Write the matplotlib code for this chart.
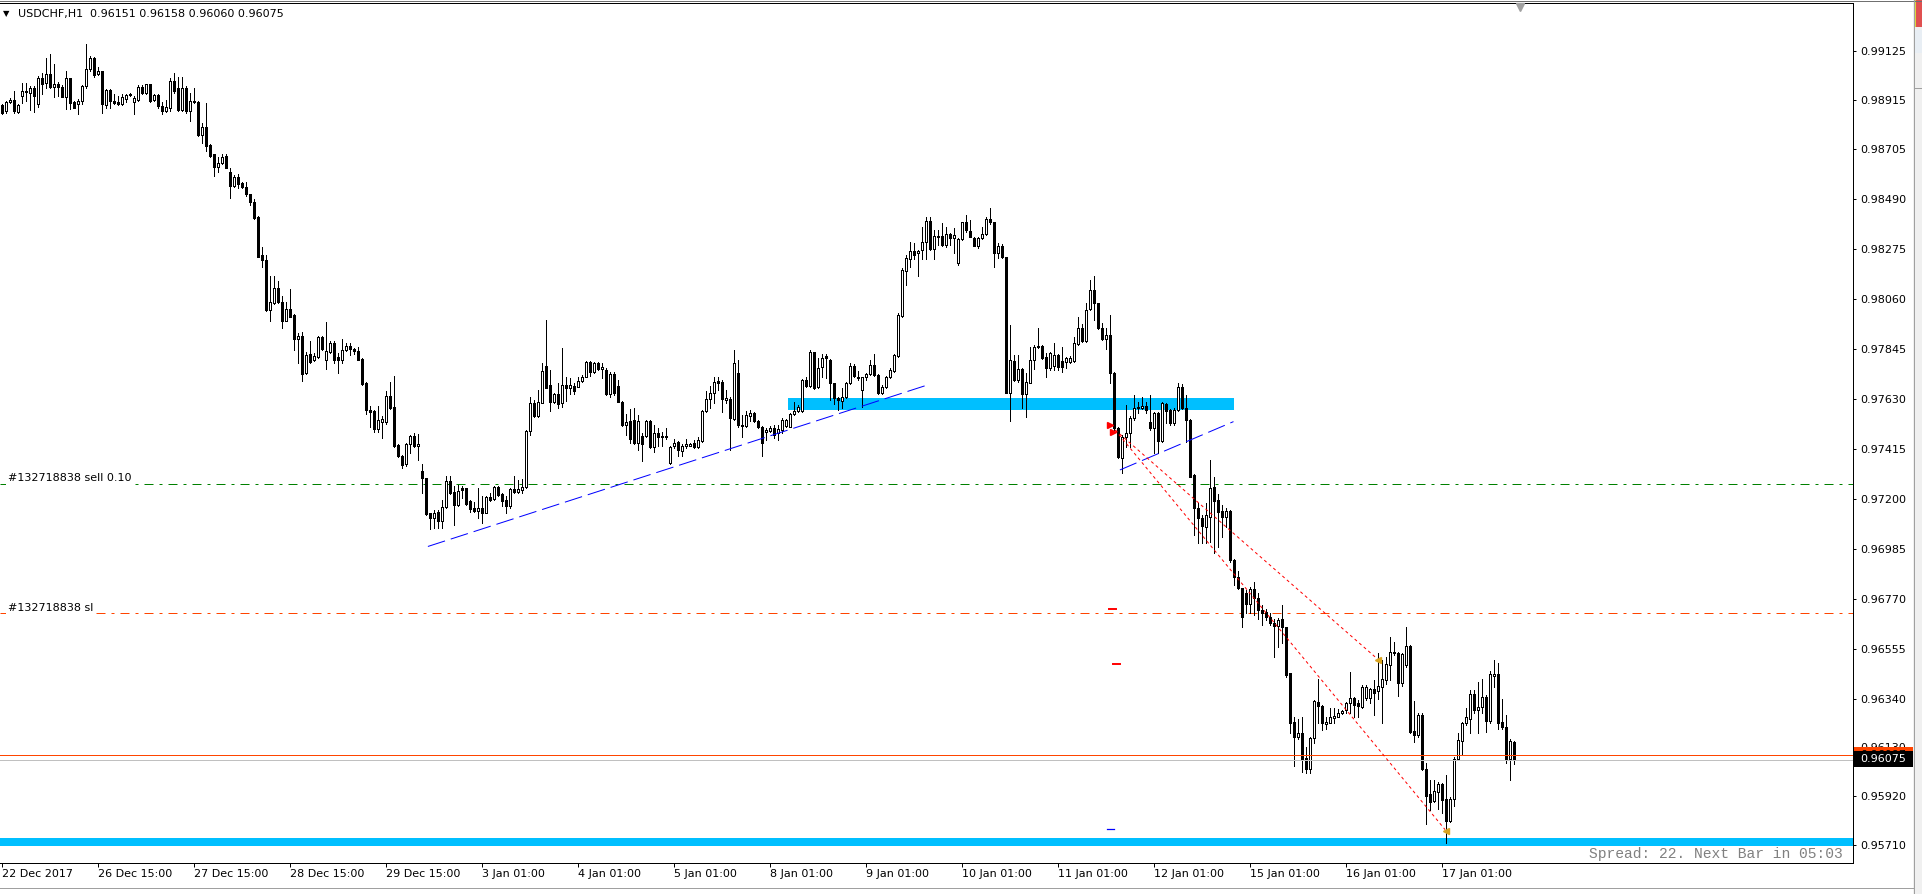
import matplotlib
matplotlib.use("Agg")
import matplotlib.pyplot as plt
import numpy as np
from matplotlib.patches import Rectangle
from matplotlib.lines import Line2D
from matplotlib import transforms

plt.rcParams['font.family'] = ['DejaVu Sans']

# ---------------- data (prices in points, 1 point = 0.00001) ----------------
symbol = "USDCHF,H1"
header_values = "0.96151 0.96158 0.96060 0.96075"

opens = [
    98892, 98866, 98906, 98916, 98862, 98933, 98953, 98945, 98965, 98895,
    99007, 98986, 99026, 98972, 98983, 98972, 98929, 99007, 98906, 98899,
    98909, 98975, 99047, 99094, 99026, 99037, 98892, 98956, 98909, 98905,
    98895, 98920, 98936, 98906, 98916, 98972, 98943, 98982, 98913, 98934,
    98888, 98866, 98878, 98994, 98967, 98870, 98967, 98866, 98909, 98906,
    98764, 98796, 98720, 98681, 98626, 98645, 98672, 98604, 98546, 98583,
    98556, 98542, 98509, 98477, 98411, 98248, 98228, 98011, 98040, 98107,
    98047, 97965, 98016, 97989, 97885, 97899, 97740, 97822, 97794, 97808,
    97895, 97798, 97831, 97869, 97808, 97794, 97837, 97855, 97844, 97834,
    97800, 97698, 97583, 97576, 97499, 97529, 97529, 97642,
    97593, 97431, 97383, 97348, 97434, 97469, 97424, 97319, 97287, 97137,
    97118, 97144, 97105, 97163, 97277, 97230, 97173, 97244, 97244, 97190,
    97158, 97148, 97158, 97140, 97206, 97197, 97249, 97218, 97194, 97166,
    97240, 97230, 97237, 97249, 97492, 97610, 97555, 97613, 97770, 97689,
    97617, 97650, 97610, 97689, 97674, 97684, 97681, 97706, 97724, 97786,
    97746, 97785, 97756, 97753, 97650, 97736, 97684, 97617, 97517, 97535,
    97538, 97438, 97469, 97469, 97535, 97421, 97484, 97469, 97469, 97352,
    97428, 97442, 97406, 97424, 97428, 97441, 97421, 97449, 97577, 97627,
    97653, 97707, 97703, 97624, 97627, 97541, 97742, 97517, 97510, 97557,
    97567, 97535, 97507, 97488, 97492, 97502, 97481,
    97495, 97513, 97509, 97563, 97578, 97578, 97710, 97684, 97829, 97681,
    97764, 97813, 97796, 97695, 97631, 97621, 97635, 97698, 97770, 97724,
    97669, 97721, 97735, 97774, 97731, 97655, 97678, 97721, 97750, 97814,
    97985, 98180, 98232, 98265, 98255, 98269, 98305, 98395, 98272, 98329,
    98329, 98290, 98336, 98319, 98214, 98316, 98391, 98351, 98319, 98288,
    98319, 98336, 98402, 98388, 98257, 98286, 98237, 97655, 97793, 97710,
    97756, 97648, 97698, 97796, 97850, 97856, 97810, 97760, 97770, 97817,
    97791, 97789, 97789, 97793, 97865, 97932, 97879, 98014, 98097, 98039,
    97932, 97885, 97903, 97741, 97502, 97373,
    97466, 97480, 97545, 97595, 97588, 97598, 97531, 97502, 97567, 97449,
    97607, 97581, 97524,
    97581, 97681, 97588, 97538, 97301, 97158, 97118, 97079, 97122, 97248,
    97194, 97146, 97122, 97146, 96936, 96864, 96814, 96792, 96746, 96809,
    96771, 96721, 96710, 96692, 96666, 96653, 96680, 96646, 96448, 96240,
    96173, 96193, 96085, 96039, 96169, 96326, 96308, 96230, 96236, 96255,
    96262, 96276, 96290, 96319, 96341, 96319, 96305, 96341, 96341, 96379,
    96374, 96391, 96419, 96484, 96534, 96537, 96405, 96484, 96566, 96201,
    96183, 96269, 96037, 95929, 95900, 95939, 95972, 95910, 95814, 95906,
    96080, 96158, 96233, 96254, 96359, 96290, 96302, 96345, 96244, 96438,
    96445, 96239, 96219, 96082, 96151,
]

highs = [
    98898, 98912, 98924, 98953, 98898, 98989, 98989, 98975, 98975, 99019,
    99029, 99094, 99110, 99070, 98990, 98980, 99040, 99007, 98909, 98919,
    98979, 99154, 99103, 99098, 99058, 99040, 98960, 98960, 98939, 98932,
    98939, 98942, 98946, 98932, 98979, 98977, 98985, 98985, 98939, 98939,
    98905, 98916, 99007, 99029, 99011, 99011, 98975, 98946, 98967, 98912,
    98815, 98902, 98723, 98684, 98667, 98681, 98684, 98621, 98593, 98597,
    98560, 98560, 98512, 98487, 98415, 98281, 98248, 98158, 98158, 98134,
    98070, 98044, 98100, 97992, 97913, 97916, 97831, 97878, 97824, 97899,
    97899, 97958, 97878, 97878, 97826, 97888, 97869, 97867, 97848, 97852,
    97805, 97703, 97600, 97579, 97596, 97557, 97662, 97702,
    97727, 97433, 97388, 97441, 97474, 97484, 97476, 97349, 97290, 97140,
    97151, 97151, 97194, 97295, 97295, 97252, 97259, 97254, 97247, 97194,
    97187, 97244, 97209, 97211, 97226, 97254, 97252, 97223, 97209, 97244,
    97299, 97280, 97284, 97495, 97636, 97624, 97667, 97785, 97968, 97753,
    97656, 97696, 97846, 97724, 97717, 97696, 97724, 97732, 97793, 97792,
    97789, 97789, 97782, 97760, 97746, 97746, 97710, 97621, 97564, 97584,
    97588, 97560, 97481, 97538, 97538, 97517, 97505, 97488, 97505, 97424,
    97455, 97448, 97435, 97455, 97441, 97452, 97466, 97581, 97664, 97684,
    97722, 97724, 97710, 97667, 97638, 97839, 97796, 97560, 97578, 97581,
    97574, 97538, 97510, 97505, 97512, 97517, 97517,
    97545, 97542, 97566, 97616, 97602, 97713, 97721, 97839, 97832, 97803,
    97821, 97820, 97799, 97698, 97638, 97674, 97703, 97781, 97778, 97750,
    97724, 97741, 97796, 97821, 97735, 97688, 97727, 97760, 97821, 97996,
    98190, 98247, 98305, 98298, 98269, 98369, 98412, 98412, 98355, 98355,
    98384, 98366, 98343, 98362, 98319, 98391, 98419, 98398, 98323, 98326,
    98366, 98412, 98448, 98391, 98298, 98295, 98240, 97946, 97817, 97817,
    97760, 97738, 97853, 97860, 97932, 97860, 97824, 97832, 97867, 97821,
    97853, 97810, 97813, 97896, 97979, 97951, 98039, 98140, 98157, 98042,
    97953, 97932, 97989, 97746, 97509, 97473,
    97602, 97555, 97645, 97617, 97638, 97617, 97645, 97574, 97571, 97617,
    97610, 97584, 97588,
    97699, 97693, 97645, 97541, 97304, 97182, 97129, 97179, 97366, 97294,
    97220, 97172, 97158, 97151, 96939, 96890, 96817, 96807, 96821, 96842,
    96795, 96742, 96723, 96706, 96680, 96685, 96742, 96649, 96451, 96259,
    96254, 96262, 96133, 96176, 96333, 96422, 96312, 96262, 96298, 96298,
    96293, 96290, 96326, 96455, 96348, 96333, 96398, 96398, 96384, 96419,
    96534, 96506, 96520, 96606, 96584, 96541, 96534, 96646, 96570, 96330,
    96279, 96276, 96061, 95989, 95989, 95982, 95975, 96011, 95918, 96090,
    96190, 96240, 96298, 96376, 96376, 96412, 96422, 96355, 96460, 96506,
    96494, 96336, 96269, 96168, 96158,
]

lows = [
    98852, 98859, 98902, 98859, 98857, 98902, 98909, 98870, 98863, 98883,
    98939, 98967, 98967, 98929, 98932, 98925, 98876, 98876, 98878, 98855,
    98895, 98967, 99041, 99011, 99023, 98859, 98878, 98880, 98898, 98892,
    98892, 98905, 98932, 98852, 98909, 98939, 98939, 98906, 98909, 98878,
    98855, 98863, 98869, 98946, 98869, 98866, 98859, 98825, 98902, 98761,
    98728, 98695, 98670, 98587, 98604, 98641, 98620, 98493, 98539, 98536,
    98536, 98502, 98462, 98403, 98238, 98194, 98008, 97965, 98037, 98040,
    97932, 97962, 97979, 97839, 97784, 97707, 97735, 97784, 97791, 97805,
    97841, 97757, 97826, 97784, 97742, 97784, 97834, 97817, 97822, 97794,
    97688, 97565, 97506, 97488, 97485, 97459, 97521, 97586,
    97421, 97378, 97333, 97338, 97395, 97421, 97366, 97223, 97130, 97068,
    97072, 97072, 97072, 97158, 97220, 97087, 97166, 97201, 97173, 97144,
    97141, 97115, 97097, 97137, 97191, 97194, 97213, 97168, 97137, 97158,
    97223, 97223, 97223, 97244, 97474, 97552, 97552, 97610, 97674, 97578,
    97610, 97588, 97595, 97621, 97650, 97650, 97679, 97703, 97722, 97727,
    97742, 97753, 97720, 97646, 97638, 97646, 97614, 97512, 97474, 97441,
    97435, 97409, 97363, 97466, 97416, 97402, 97424, 97424, 97455, 97349,
    97416, 97385, 97385, 97416, 97424, 97416, 97416, 97445, 97571, 97588,
    97610, 97667, 97574, 97613, 97409, 97538, 97507, 97464, 97507, 97535,
    97531, 97502, 97385, 97452, 97488, 97459, 97452,
    97480, 97509, 97506, 97559, 97573, 97573, 97681, 97678, 97671, 97674,
    97721, 97717, 97626, 97606, 97583, 97588, 97631, 97692, 97724, 97710,
    97595, 97712, 97731, 97727, 97649, 97649, 97674, 97717, 97746, 97810,
    97979, 98118, 98197, 98229, 98157, 98229, 98229, 98269, 98229, 98290,
    98288, 98283, 98290, 98257, 98204, 98312, 98348, 98323, 98286, 98276,
    98316, 98333, 98381, 98197, 98233, 98233, 97652, 97535, 97707, 97703,
    97588, 97552, 97695, 97756, 97846, 97799, 97724, 97753, 97753, 97753,
    97746, 97760, 97784, 97789, 97860, 97875, 97875, 98011, 97968, 97929,
    97882, 97842, 97695, 97495, 97373, 97311,
    97423, 97423, 97538, 97567, 97584, 97567, 97495, 97397, 97397, 97445,
    97524, 97516, 97516,
    97578, 97585, 97445, 97291, 97043, 97007, 97007, 97007, 97015, 96967,
    96993, 97033, 97079, 96928, 96828, 96810, 96649, 96706, 96706, 96699,
    96680, 96656, 96678, 96656, 96520, 96563, 96577, 96434, 96193, 96049,
    96164, 96025, 96021, 96021, 96147, 96233, 96204, 96211, 96233, 96236,
    96259, 96273, 96276, 96276, 96262, 96262, 96298, 96333, 96319, 96269,
    96336, 96236, 96402, 96419, 96527, 96351, 96394, 96477, 96190, 96154,
    96176, 96032, 95800, 95860, 95896, 95863, 95846, 95717, 95810, 95877,
    96075, 96097, 96226, 96190, 96276, 96190, 96276, 96197, 96233, 96391,
    96211, 96211, 96061, 95989, 96060,
]

closes = [
    98859, 98906, 98916, 98866, 98892, 98953, 98950, 98965, 98932, 99007,
    98983, 99026, 98972, 98983, 98972, 98929, 99007, 98902, 98880, 98909,
    98975, 99048, 99094, 99023, 99037, 98895, 98956, 98909, 98902, 98895,
    98925, 98936, 98939, 98921, 98972, 98943, 98982, 98909, 98936, 98888,
    98866, 98883, 98997, 98953, 98873, 98967, 98866, 98909, 98906, 98764,
    98796, 98718, 98674, 98626, 98645, 98667, 98623, 98543, 98583, 98553,
    98542, 98509, 98476, 98408, 98241, 98228, 98011, 98044, 98107, 98044,
    97965, 98016, 97982, 97885, 97899, 97737, 97819, 97786, 97815, 97895,
    97844, 97834, 97867, 97798, 97794, 97838, 97855, 97845, 97834, 97798,
    97691, 97582, 97572, 97499, 97538, 97543, 97642, 97589,
    97424, 97381, 97345, 97435, 97469, 97424, 97435, 97290, 97133, 97118,
    97137, 97105, 97163, 97277, 97223, 97173, 97234, 97237, 97177, 97154,
    97148, 97158, 97140, 97206, 97194, 97249, 97216, 97191, 97166, 97240,
    97230, 97240, 97249, 97492, 97610, 97555, 97614, 97749, 97677, 97617,
    97650, 97607, 97689, 97674, 97689, 97664, 97706, 97722, 97789, 97743,
    97785, 97756, 97767, 97650, 97736, 97653, 97617, 97517, 97528, 97456,
    97438, 97535, 97433, 97535, 97421, 97484, 97464, 97464, 97464, 97421,
    97441, 97409, 97428, 97435, 97435, 97421, 97452, 97577, 97627, 97653,
    97703, 97699, 97627, 97631, 97545, 97782, 97517, 97510, 97560, 97567,
    97535, 97507, 97438, 97495, 97504, 97474, 97498,
    97538, 97538, 97562, 97578, 97595, 97710, 97684, 97829, 97674, 97760,
    97803, 97803, 97695, 97631, 97626, 97635, 97698, 97770, 97727, 97720,
    97721, 97735, 97774, 97731, 97652, 97678, 97721, 97753, 97817, 97989,
    98183, 98233, 98265, 98247, 98265, 98305, 98395, 98272, 98329, 98323,
    98290, 98336, 98319, 98333, 98316, 98388, 98355, 98326, 98288, 98319,
    98336, 98402, 98388, 98257, 98286, 98237, 97655, 97796, 97710, 97756,
    97648, 97703, 97796, 97853, 97856, 97803, 97760, 97824, 97817, 97767,
    97764, 97803, 97806, 97867, 97932, 97879, 98011, 98097, 98039, 97935,
    97885, 97903, 97741, 97502, 97377, 97466,
    97480, 97545, 97588, 97588, 97598, 97581, 97502, 97567, 97449, 97610,
    97578, 97524, 97581,
    97681, 97588, 97538, 97294, 97158, 97115, 97083, 97129, 97244, 97191,
    97141, 97122, 97146, 96936, 96861, 96814, 96692, 96746, 96809, 96771,
    96721, 96709, 96692, 96666, 96653, 96678, 96646, 96441, 96236, 96173,
    96193, 96082, 96039, 96169, 96329, 96308, 96233, 96237, 96259, 96265,
    96276, 96287, 96322, 96341, 96312, 96308, 96388, 96388, 96379, 96365,
    96394, 96422, 96488, 96538, 96538, 96405, 96531, 96566, 96197, 96183,
    96269, 96035, 95920, 95896, 95942, 95972, 95903, 95814, 95910, 96082,
    96161, 96233, 96259, 96359, 96290, 96302, 96345, 96244, 96445, 96445,
    96236, 96219, 96080, 96158, 96075,
]

time_labels = ["22 Dec 2017", "26 Dec 15:00", "27 Dec 15:00", "28 Dec 15:00",
               "29 Dec 15:00", "3 Jan 01:00", "4 Jan 01:00", "5 Jan 01:00",
               "8 Jan 01:00", "9 Jan 01:00", "10 Jan 01:00", "11 Jan 01:00",
               "12 Jan 01:00", "15 Jan 01:00", "16 Jan 01:00", "17 Jan 01:00"]
bars_per_label = 24

price_ticks = [0.99125, 0.98915, 0.98705, 0.98490, 0.98275, 0.98060, 0.97845,
               0.97630, 0.97415, 0.97200, 0.96985, 0.96770, 0.96555, 0.96340,
               0.96130, 0.95920, 0.95710]

order_label = "#132718838 sell 0.10"
sl_label = "#132718838 sl"
order_price = 0.97261
sl_price = 0.96707
bid_price = 0.96075
ask_price = 0.96097
zone_upper = (0.97581, 0.97633)
zone_lower = (0.95706, 0.95740)
spread_text = "Spread: 22. Next Bar in 05:03"

# drawn objects anchored at (bar index, price)
zone_upper_bars = (196.6, 308.1)
trend1 = ([106.6, 231.4], [0.96994, 0.97688])
trend2 = ([279.6, 308.0], [0.97323, 0.97531])
trade_a = ([278.4, 344.0], [0.97495, 0.96510])
trade_b = ([278.4, 360.9], [0.97495, 0.95776])
open_arrows = ([277.0, 277.9], [0.97516, 0.97488])
close_arrows = ([344.2, 361.1], [0.96506, 0.95772])
red_marks = ([[276.9, 278.6], [277.9, 279.6]], [0.96724, 0.96487])
blue_marks = ([[276.4, 278.1]], [0.95780])

# ---------------- figure ----------------
W, H = 1922, 894
fig = plt.figure(figsize=(W / 100, H / 100), dpi=100)
fig.patch.set_facecolor('white')
ax_left, ax_right, ax_top, ax_bottom = 0, 1853, 3, 863
ax = fig.add_axes([ax_left / W, (H - ax_bottom) / H,
                   (ax_right - ax_left) / W, (ax_bottom - ax_top) / H])

o = np.array(opens) / 1e5
h = np.array(highs) / 1e5
l = np.array(lows) / 1e5
c = np.array(closes) / 1e5
n = min(len(o), len(h), len(l), len(c))
o, h, l, c = o[:n], h[:n], l[:n], c[:n]
x = np.arange(n)

ax.set_xlim(-0.375, -0.375 + (ax_right - ax_left) / 4.0)
ax.set_ylim(0.956326, 0.993314)

LW = 0.72  # 1 pixel

# zones (behind)
ax.add_patch(Rectangle((zone_upper_bars[0], zone_upper[0]),
                       zone_upper_bars[1] - zone_upper_bars[0],
                       zone_upper[1] - zone_upper[0],
                       fc='#00BFFF', ec='none', zorder=1))
ax.axhspan(zone_lower[0], zone_lower[1], fc='#00BFFF', ec='none', zorder=1)

# horizontal order lines
ax.axhline(order_price, color='#008000', lw=LW, ls=(0, (9, 6, 3, 6)), zorder=2)
ax.axhline(sl_price, color='#FF4500', lw=LW, ls=(0, (9, 6, 3, 6)), zorder=2)

# candles
ax.vlines(x, l, h, colors='black', lw=LW, zorder=3, antialiased=False)
body_lo = np.minimum(o, c)
body_h = np.abs(c - o)
up = c >= o
bars = ax.bar(x, body_h, bottom=body_lo, width=0.5,
              color=np.where(up, 'white', 'black'), edgecolor='black',
              linewidth=LW, zorder=4)
for r in bars:
    r.set_antialiased(False)

# bid / ask lines
ax.axhline(ask_price, color='#FF4500', lw=LW, zorder=5)
ax.axhline(bid_price, color='#C0C0C0', lw=LW, zorder=5)

# trendlines
ax.plot(*trend1, color='#0000FF', lw=LW, ls=(0, (18, 6)), zorder=6)
ax.plot(*trend2, color='#0000FF', lw=LW, ls=(0, (18, 6)), zorder=6)

# trade history lines
ax.plot(*trade_a, color='#FF0000', lw=LW, ls=(0, (3, 3)), zorder=6)
ax.plot(*trade_b, color='#FF0000', lw=LW, ls=(0, (3, 3)), zorder=6)
ax.plot(*open_arrows, ls='none', marker='>', ms=4, color='#FF0000', zorder=7)
ax.plot(*close_arrows, ls='none', marker='<', ms=4, color='#DAA520', zorder=7)
for xs, yv in zip(*red_marks):
    ax.plot(xs, [yv, yv], color='#FF0000', lw=1.4, zorder=7)
for xs, yv in zip(*blue_marks):
    ax.plot(xs, [yv, yv], color='#0000FF', lw=0.9, zorder=7)

# order labels
for lbl, py, dy in [(order_label, order_price, 3), (sl_label, sl_price, 2)]:
    ax.annotate(lbl, xy=(0, py), xycoords=('axes fraction', 'data'),
                xytext=(8, dy), textcoords='offset pixels', ha='left',
                va='baseline', fontsize=8, color='black', zorder=8,
                bbox=dict(boxstyle='square,pad=0.15', fc='white', ec='none'))

# spines
for side in ['top', 'right', 'bottom']:
    ax.spines[side].set_color('black')
    ax.spines[side].set_linewidth(LW)
ax.spines['left'].set_visible(False)

# y axis on the right
ax.yaxis.tick_right()
ax.set_yticks(price_ticks)
ax.set_yticklabels([f"{p:.5f}" for p in price_ticks])
ax.tick_params(axis='y', direction='out', length=2.2, width=LW, pad=3.2,
               labelsize=8, colors='black')

# x axis ticks + labels
tick_bars = list(range(0, bars_per_label * len(time_labels), bars_per_label))
ax.set_xticks(tick_bars)
ax.set_xticklabels([])
ax.tick_params(axis='x', direction='out', length=3.0, width=LW)
for b, lbl in zip(tick_bars, time_labels):
    ax.annotate(lbl, xy=(b, 0), xycoords=('data', 'axes fraction'),
                xytext=(1, -11), textcoords='offset pixels', ha='left',
                va='center', fontsize=8, color='black', annotation_clip=False)

# header
ax.annotate("\u25BC", xy=(0, 1), xycoords='axes fraction', xytext=(3, -11),
            textcoords='offset pixels', ha='left', va='center', fontsize=6)
ax.annotate(symbol, xy=(0, 1), xycoords='axes fraction', xytext=(18, -11),
            textcoords='offset pixels', ha='left', va='center', fontsize=8)
ax.annotate(header_values, xy=(0, 1), xycoords='axes fraction', xytext=(90, -11),
            textcoords='offset pixels', ha='left', va='center', fontsize=8)

# chart shift marker
shift_tr = (transforms.blended_transform_factory(ax.transData, ax.transAxes)
            + transforms.ScaledTranslation(0, -4 / 100, fig.dpi_scale_trans))
ax.plot([379.6], [1.0], transform=shift_tr, marker='v', ms=6, color='#A0A0A0',
        mec='#A0A0A0', clip_on=False, zorder=9, ls='none')

# spread text
ax.annotate(spread_text, xy=(1, 0), xycoords='axes fraction', xytext=(-10, 5),
            textcoords='offset pixels', ha='right', va='baseline',
            family='Liberation Mono', fontsize=10.5, color='#808080')

# price labels for ask / bid
blend = transforms.blended_transform_factory(ax.transAxes, ax.transData)
px_y = (0.993314 - 0.956326) / (ax_bottom - ax_top)
box_x0 = 1.0005
box_w = 60 / (ax_right - ax_left)
box_h = 16 * px_y
ax.add_patch(Rectangle((box_x0, ask_price - box_h / 2), box_w, box_h, transform=blend,
                       fc='#FF4500', ec='none', clip_on=False, zorder=10))
ax.text((1860 - ax_left) / (ax_right - ax_left), ask_price, f"{ask_price:.5f}",
        transform=blend, va='center', ha='left', fontsize=8, color='black',
        clip_on=False, zorder=11)
ax.add_patch(Rectangle((box_x0, bid_price - box_h / 2 + 1.5 * px_y), box_w, box_h,
                       transform=blend, fc='black', ec='none', clip_on=False, zorder=12))
ax.text((1860 - ax_left) / (ax_right - ax_left), bid_price + 1.5 * px_y, f"{bid_price:.5f}",
        transform=blend, va='center', ha='left', fontsize=8, color='white',
        clip_on=False, zorder=13)

# window chrome
def fig_line(x0, y0, x1, y1, color, lw=LW):
    fig.add_artist(Line2D([x0 / W, x1 / W], [1 - y0 / H, 1 - y1 / H],
                          transform=fig.transFigure, color=color, lw=lw))

def fig_rect(x0, y0, x1, y1, color):
    fig.add_artist(Rectangle((x0 / W, 1 - y1 / H), (x1 - x0) / W, (y1 - y0) / H,
                             transform=fig.transFigure, fc=color, ec='none'))

fig_line(0, 0.5, W, 0.5, '#707070')
fig_rect(1913, 0, W, H, '#F0F0F0')
fig_line(1913.5, 0, 1913.5, H, '#A0A0A0')
fig_rect(1915, 0, W, 27, '#E05050')
fig_rect(1914, 0, 1916, 27, '#D8D840')
fig_rect(1915, 30, W, 53, '#E8EEF4')
fig_line(1915, 88, W, 88, '#A0A0A0')
fig_line(0, 887.5, 1913, 887.5, '#A0A0A0')

fig.savefig("out.png", dpi=100, facecolor='white')
